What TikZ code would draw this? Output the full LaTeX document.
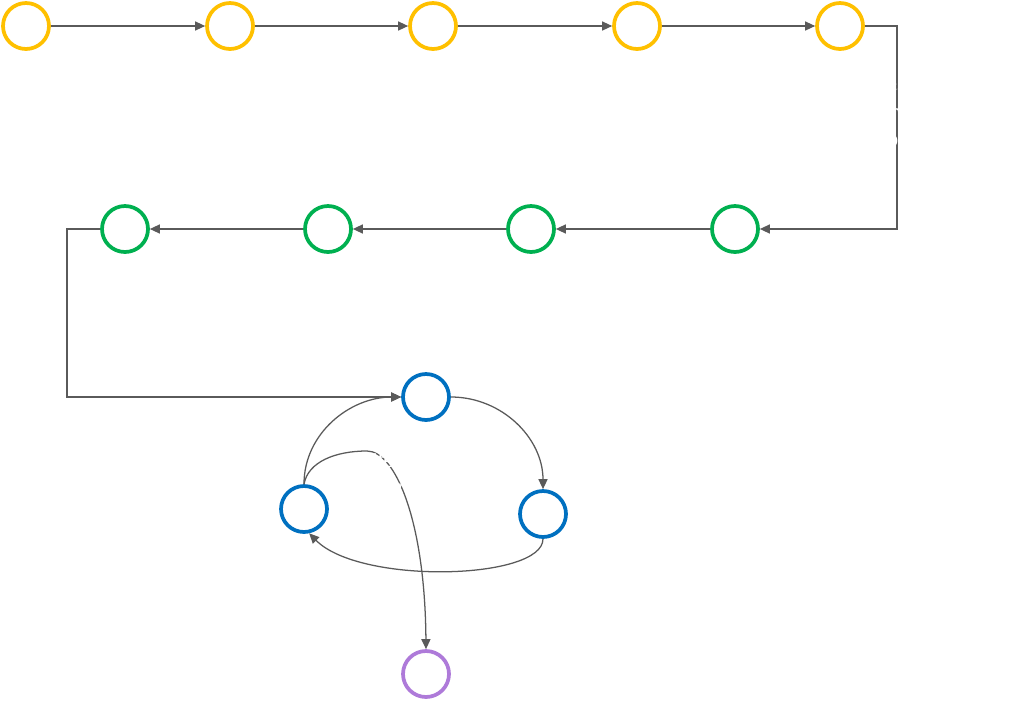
\documentclass[tikz,border=0pt]{standalone}
\usepackage{fontspec}
\setmainfont{Liberation Sans}
\usetikzlibrary{arrows.meta}
\definecolor{cyel}{HTML}{FFC000}
\definecolor{cgrn}{HTML}{00B050}
\definecolor{cblu}{HTML}{0070C0}
\definecolor{cpur}{HTML}{AE7AD9}
\definecolor{cline}{HTML}{5A5A5A}
\definecolor{ctxt}{HTML}{FFFFFF}
\tikzset{
  stage/.style={circle,draw=#1,line width=2.8pt,minimum size=34.5pt,inner sep=0pt,
    text=ctxt,font=\fontsize{12pt}{12pt}\selectfont},
  lbl/.style={inner sep=0pt,text=ctxt,font=\fontsize{15pt}{20.25pt}\selectfont},
  conn/.style={draw=cline,line width=0.95pt,-{Triangle[length=7.5pt,width=6.8pt]}},
}
\begin{document}
\begin{tikzpicture}[x=0.75pt,y=-0.75pt]
\useasboundingbox (0,0) rectangle (1024,714);
% stage nodes
\node[stage=cyel] (n1) at (26,26) {1};
\node[stage=cyel] (n2) at (230,26) {2};
\node[stage=cyel] (n3) at (433,26) {3};
\node[stage=cyel] (n4) at (637,26) {4};
\node[stage=cyel] (n5) at (840,26) {5};
\node[stage=cgrn] (n6) at (735,229) {6};
\node[stage=cgrn] (n7) at (531,229) {7};
\node[stage=cgrn] (n8) at (328,229) {8};
\node[stage=cgrn] (n9) at (125,229) {9};
\node[stage=cblu] (n10) at (426,397) {10};
\node[stage=cblu] (n11) at (543,514) {11};
\node[stage=cblu] (n12) at (304,509) {12};
\node[stage=cpur] (n13) at (426,674) {13};
% connectors
\draw[conn] (n1) -- (n2);
\draw[conn] (n2) -- (n3);
\draw[conn] (n3) -- (n4);
\draw[conn] (n4) -- (n5);
\coordinate (c5) at (897,26);
\draw[conn] (n5.east) -- (c5) |- (n6.east);
\draw[conn] (n6) -- (n7);
\draw[conn] (n7) -- (n8);
\draw[conn] (n8) -- (n9);
\coordinate (c9) at (67,229);
\draw[conn] (n9.west) -- (c9) |- (n10.west);
\draw[conn] (n10.east) to[out=0,in=90] (n11.north);
\draw[conn] (n11.south) .. controls (543,580) and (360,585) .. (n12.-78);
\draw[conn] (n12.north) to[out=90,in=180] (n10.west);
\coordinate (cpk) at (367,451);
\draw[conn] (n12.north) .. controls (308,462) and (335,451) .. (cpk)
  .. controls (395,451) and (425,520) .. (n13.north);
% labels (drawn over the connectors)
\node[lbl,anchor=north west,align=left] (l1) at (16,78) {Kick off\\meeting};
\node[lbl,anchor=north west,align=left] (l2) at (220,78) {Alignment of\\goals};
\node[lbl,anchor=north west,align=left] (l3) at (423,78) {Definition of\\use cases};
\node[lbl,anchor=north west,align=left] (l4) at (625,78) {Assessment\\of AI capability};
\node[lbl,anchor=north west,align=left] (l5) at (828,78) {Identification and\\involvement of\\stakeholders};
\node[lbl,anchor=north west,align=left] (l6) at (723,281) {Analysis of\\requirements};
\node[lbl,anchor=north west,align=left] (l7) at (523,281) {Data\\preparation};
\node[lbl,anchor=north west,align=left] (l8) at (320,281) {Solution\\design};
\node[lbl,anchor=north west,align=left] (l9) at (117,281) {Process\\design};
\node[lbl,anchor=north west,align=left] (l10) at (518,365) {Milestone\\definition};
\node[lbl,anchor=north west,align=left] (l11) at (582,497) {Agile\\development};
\node[lbl,anchor=north east,align=right] (l12) at (255,484) {Setup of test\\application};
\node[lbl,anchor=north west,align=left] (lc) at (372,453) {Iterative work\\increments};
\node[lbl,anchor=north west,align=left] (l13) at (468,654) {Application\\delivery};
\end{tikzpicture}
\end{document}
